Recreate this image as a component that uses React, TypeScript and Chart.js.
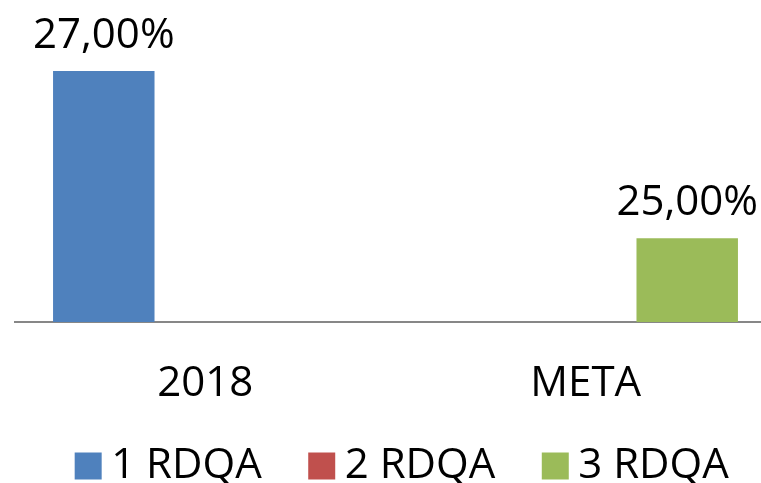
import React, { useEffect, useRef } from "react";
import { Chart, registerables } from "chart.js";

Chart.register(...registerables);

const categories = ["2018", "META"];
const seriesNames = ["1 RDQA", "2 RDQA", "3 RDQA"];
const series1: (number | null)[] = [27, null];
const series2: (number | null)[] = [null, null];
const series3: (number | null)[] = [null, 25];
const seriesColors = ["#4F81BD", "#C0504D", "#9BBB59"];
const yMin = 24;
const yMax = 27;

const FONT = "'Open Sans', sans-serif";
const FONT_SIZE = 42;

export default function App() {
  const ref = useRef<HTMLCanvasElement>(null);

  useEffect(() => {
    if (!ref.current) return;
    const valueLabels = {
      id: "valueLabels",
      afterDatasetsDraw(chart: any) {
        const ctx = chart.ctx;
        ctx.save();
        ctx.font = `${FONT_SIZE}px ${FONT}`;
        ctx.fillStyle = "#000000";
        ctx.textAlign = "center";
        ctx.textBaseline = "alphabetic";
        chart.data.datasets.forEach((ds: any, i: number) => {
          const meta = chart.getDatasetMeta(i);
          meta.data.forEach((el: any, j: number) => {
            const v = ds.data[j];
            if (v == null) return;
            ctx.fillText(v.toFixed(2).replace(".", ",") + "%", el.x, el.y - 23);
          });
        });
        ctx.restore();
      },
    };

    const chart = new Chart(ref.current, {
      type: "bar",
      data: {
        labels: categories,
        datasets: [series1, series2, series3].map((d, i) => ({
          label: seriesNames[i],
          data: d,
          backgroundColor: seriesColors[i],
          borderWidth: 0,
          categoryPercentage: 0.8,
          barPercentage: 1,
        })),
      },
      options: {
        responsive: false,
        animation: false,
        layout: { padding: { top: 71, left: 15, right: 0, bottom: 0 } },
        scales: {
          x: {
            grid: { display: false, drawTicks: false },
            border: { display: true, color: "#878787", width: 2 },
            ticks: {
              color: "#000000",
              mirror: true,
              padding: -87,
              font: { family: FONT, size: FONT_SIZE },
            },
            afterFit: (s: any) => {
              s.height = 65;
            },
          },
          y: {
            position: "right",
            min: yMin,
            max: yMax,
            grid: { display: false, drawTicks: false },
            border: { display: false },
            ticks: { display: false },
            afterFit: (s: any) => {
              s.width = 24;
            },
          },
        },
        plugins: {
          tooltip: { enabled: false },
          legend: {
            position: "bottom",
            labels: {
              usePointStyle: true,
              pointStyle: "rect",
              boxWidth: 4,
              boxHeight: 27,
              padding: 58,
              color: "#000000",
              font: { family: FONT, size: FONT_SIZE },
            },
          },
        },
      },
      plugins: [valueLabels],
    });
    return () => chart.destroy();
  }, []);

  return (
    <div
      style={{
        position: "fixed",
        left: 0,
        top: 0,
        width: 761,
        height: 483,
        overflow: "hidden",
        background: "#ffffff",
      }}
    >
      <canvas ref={ref} width={800} height={497} style={{ display: "block" }} />
    </div>
  );
}
